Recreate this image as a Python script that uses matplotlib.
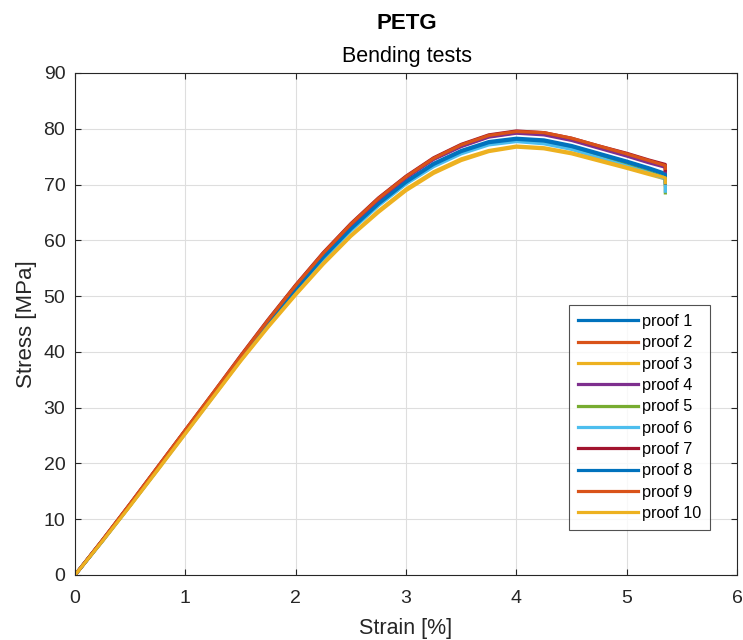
import matplotlib
matplotlib.use("Agg")
import matplotlib.pyplot as plt

plt.rcParams['font.family'] = ['Liberation Sans', 'DejaVu Sans']

strain = [0, 0.25, 0.5, 0.75, 1.0, 1.25, 1.5, 1.75, 2.0, 2.25, 2.5, 2.75,
          3.0, 3.25, 3.5, 3.75, 4.0, 4.25, 4.5, 4.75, 5.0, 5.2, 5.35, 5.35]

proof_1 = [0, 6.2, 12.6, 19.2, 25.7, 32.3, 38.9, 45.2, 51.3, 57.0, 62.1, 66.7, 70.6, 73.8, 76.1, 77.7, 78.3, 78.0, 77.0, 75.6, 74.2, 73.0, 72.0, 70.5]
proof_2 = [0, 6.3, 12.7, 19.3, 25.9, 32.5, 39.1, 45.6, 51.8, 57.6, 62.8, 67.4, 71.3, 74.6, 76.9, 78.6, 79.3, 79.1, 78.1, 76.7, 75.4, 74.2, 73.3, 72.4]
proof_3 = [0, 6.1, 12.4, 18.8, 25.3, 31.8, 38.3, 44.4, 50.2, 55.7, 60.7, 65.0, 68.9, 72.0, 74.3, 75.9, 76.7, 76.4, 75.5, 74.2, 72.9, 71.8, 71.0, 69.8]
proof_4 = [0, 6.2, 12.7, 19.3, 25.9, 32.4, 39.0, 45.5, 51.7, 57.5, 62.7, 67.3, 71.2, 74.5, 76.8, 78.5, 79.2, 78.9, 77.9, 76.5, 75.1, 73.9, 73.1, 72.0]
proof_5 = [0, 6.2, 12.5, 19.0, 25.6, 32.1, 38.7, 45.0, 51.0, 56.7, 61.8, 66.3, 70.2, 73.4, 75.7, 77.3, 77.9, 77.5, 76.5, 75.0, 73.5, 72.3, 71.2, 68.5]
proof_6 = [0, 6.1, 12.5, 19.0, 25.5, 32.0, 38.6, 44.9, 50.9, 56.6, 61.7, 66.2, 70.1, 73.2, 75.5, 77.1, 77.7, 77.3, 76.3, 74.8, 73.3, 72.1, 71.0, 68.8]
proof_7 = [0, 6.3, 12.8, 19.4, 26.0, 32.6, 39.3, 45.8, 52.0, 57.8, 63.0, 67.6, 71.5, 74.8, 77.2, 78.9, 79.6, 79.3, 78.3, 76.9, 75.6, 74.4, 73.6, 72.6]
proof_8 = [0, 6.2, 12.6, 19.1, 25.7, 32.2, 38.8, 45.1, 51.2, 56.9, 62.0, 66.5, 70.4, 73.6, 75.9, 77.5, 78.1, 77.8, 76.8, 75.4, 74.0, 72.8, 71.8, 70.2]
proof_9 = [0, 6.3, 12.8, 19.4, 26.0, 32.6, 39.2, 45.7, 51.9, 57.7, 62.9, 67.5, 71.4, 74.7, 77.1, 78.8, 79.5, 79.3, 78.3, 76.9, 75.5, 74.3, 73.4, 72.9]
proof_10 = [0, 6.1, 12.4, 18.9, 25.4, 31.9, 38.4, 44.6, 50.4, 55.9, 60.9, 65.3, 69.2, 72.3, 74.6, 76.1, 76.9, 76.6, 75.7, 74.4, 73.1, 72.0, 71.2, 70.3]

labels = ["proof %d" % i for i in range(1, 11)]
series = [proof_1, proof_2, proof_3, proof_4, proof_5, proof_6, proof_7, proof_8, proof_9, proof_10]
colors = ['#0072BD', '#D95319', '#EDB120', '#7E2F8E', '#77AC30', '#4DBEEE',
          '#A2142F', '#0072BD', '#D95319', '#EDB120']

xticks = [0, 1, 2, 3, 4, 5, 6]
yticks = [0, 10, 20, 30, 40, 50, 60, 70, 80, 90]

fig = plt.figure(figsize=(7.43, 6.4), dpi=100)
ax = fig.add_axes([0.101, 0.1016, 0.891, 0.7844])

for s, lab, c in zip(series, labels, colors):
    ax.plot(strain, s, color=c, lw=2.3, label=lab, solid_joinstyle='round')

ax.set_xlim(0, 6)
ax.set_ylim(0, 90)
ax.set_xticks(xticks)
ax.set_yticks(yticks)
ax.grid(True, color='#dedede', lw=0.8)
ax.set_axisbelow(True)
ax.tick_params(direction='in', length=4, labelsize=14, colors='#262626', top=True, right=True,
               labeltop=False, labelright=False)
ax.tick_params(axis='x', pad=11)
ax.tick_params(axis='y', pad=7)
for sp in ax.spines.values():
    sp.set_color('#262626')
    sp.set_linewidth(0.8)

ax.set_xlabel('Strain [%]', fontsize=15.5, color='#262626', labelpad=8)
ax.set_ylabel('Stress [MPa]', fontsize=16, color='#262626', labelpad=5)
fig.text(0.5475, 0.963, 'PETG', ha='center', va='center', fontsize=16, fontweight='bold')
fig.text(0.5475, 0.912, 'Bending tests', ha='center', va='center', fontsize=15.5)

leg = ax.legend(loc='lower right', bbox_to_anchor=(0.959, 0.0896), fontsize=11.7, frameon=True,
                fancybox=False, edgecolor='#262626', handlelength=3.7, handletextpad=0.25,
                labelspacing=0.39, borderpad=0.55, borderaxespad=0)
leg.get_frame().set_linewidth(0.8)

fig.savefig('out.png', dpi=100)
